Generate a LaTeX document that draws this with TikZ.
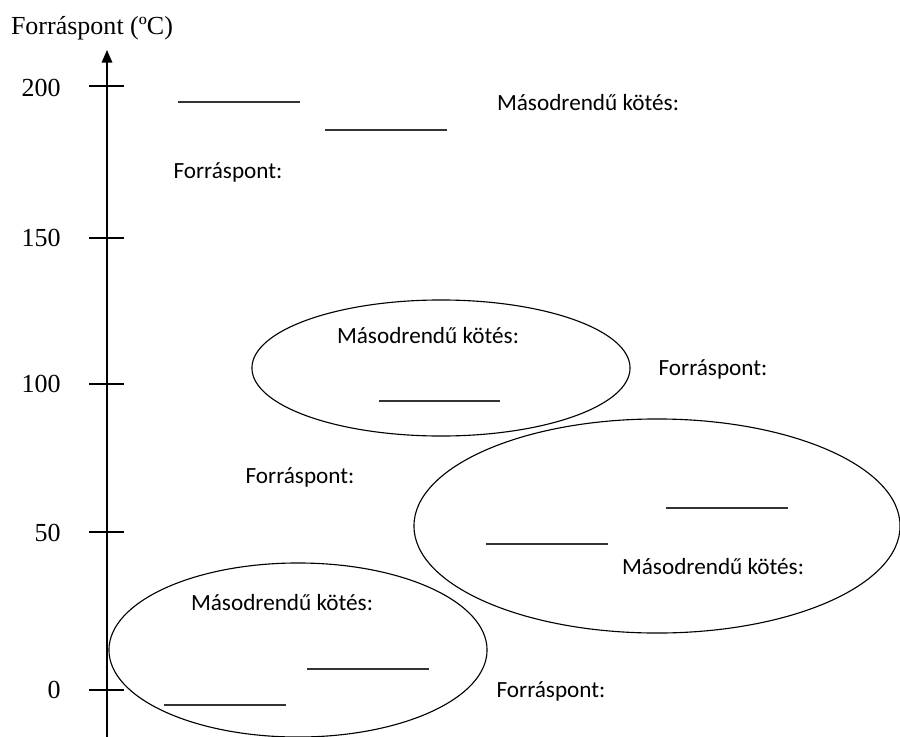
\documentclass[tikz,border=0pt]{standalone}
\usepackage{fontspec}
\setmainfont{Liberation Serif}
\newfontfamily\calibri{Carlito}
\usetikzlibrary{arrows.meta}
\tikzstyle{lbl}=[font=\calibri\fontsize{16.5}{19}\selectfont, inner sep=0pt]
\tikzstyle{num}=[font=\fontsize{18.5}{21}\selectfont, inner sep=0pt, anchor=east]
\tikzstyle{blank}=[line width=1.1pt, black!80]
\tikzstyle{bub}=[line width=0.8pt]
\tikzstyle{tick}=[line width=0.8pt]

\begin{document}
\begin{tikzpicture}[x=0.025cm, y=-0.025cm]
\useasboundingbox (0,0) rectangle (900,736);

% axis
\node[font=\fontsize{18.5}{21}\selectfont, inner sep=0pt] (title) at (92,28) {Forráspont (ºC)};
\coordinate (ybot) at (107,740);
\coordinate (ytop) at (107,50);
\draw[line width=1.2pt, -{Triangle[length=9pt,width=7.5pt]}] (ybot) -- (ytop);

\node[num] (t200) at (61,88) {200};
\node[num] (t150) at (61,238) {150};
\node[num] (t100) at (61,384) {100};
\node[num] (t50) at (61,533) {50};
\node[num] (t0) at (61,690) {0};
\draw[tick] (89,86) -- (124,86);
\draw[tick] (89,238) -- (124,238);
\draw[tick] (89,384) -- (124,384);
\draw[tick] (89,532) -- (124,532);
\draw[tick] (89,690) -- (124,690);

% ellipses
\draw[bub] (441,368) ellipse [x radius=4.725cm, y radius=1.7cm];
\draw[bub] (657,526) ellipse [x radius=6.075cm, y radius=2.675cm];
\draw[bub] (298,650) ellipse [x radius=4.725cm, y radius=2.175cm];

% blanks
\draw[blank] (178,102) -- (300,102);
\draw[blank] (325,130) -- (447,130);
\draw[blank] (379,401) -- (500,401);
\draw[blank] (486,544) -- (608,544);
\draw[blank] (666,508) -- (788,508);
\draw[blank] (307,669) -- (429,669);
\draw[blank] (164,705) -- (286,705);

% labels
\node[lbl] (m1) at (588,103) {Másodrendű kötés:};
\node[lbl] (f1) at (228,172) {Forráspont:};
\node[lbl] (m2) at (428,336) {Másodrendű kötés:};
\node[lbl] (f2) at (713,369) {Forráspont:};
\node[lbl] (f3) at (300,477) {Forráspont:};
\node[lbl] (m3) at (713,567) {Másodrendű kötés:};
\node[lbl] (m4) at (282,603) {Másodrendű kötés:};
\node[lbl] (f4) at (551,691) {Forráspont:};

\end{tikzpicture}
\end{document}
